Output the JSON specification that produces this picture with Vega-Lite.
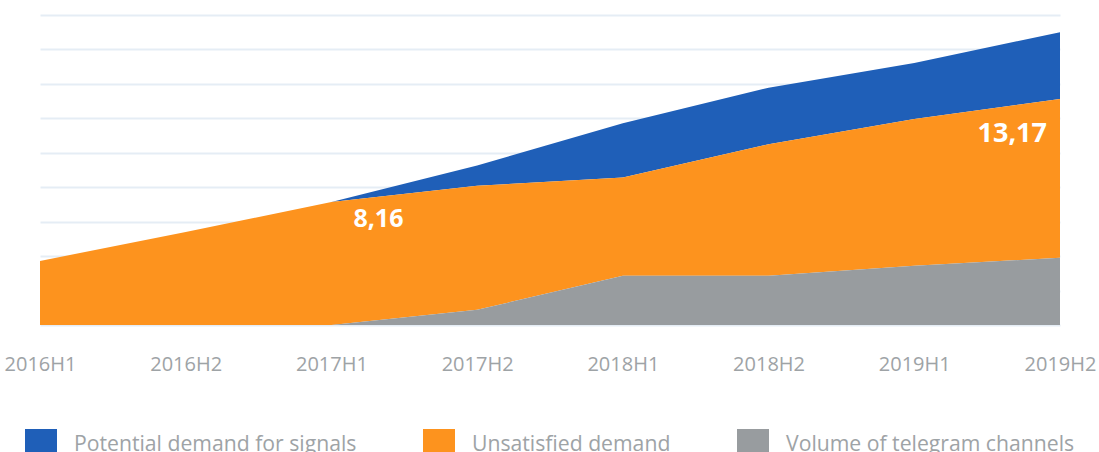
{
  "$schema": "https://vega.github.io/schema/vega-lite/v6.json",
  "width": 1020,
  "height": 310,
  "autosize": {"type": "none"},
  "padding": {"left": 40, "top": 15, "right": 39, "bottom": 127},
  "background": "white",
  "config": {"view": {"stroke": null}, "font": "Open Sans"},
  "datasets": {
    "series": [
      {"period": "2016H1", "series": "Potential demand for signals", "value": 0},
      {"period": "2016H2", "series": "Potential demand for signals", "value": 0},
      {"period": "2017H1", "series": "Potential demand for signals", "value": 0},
      {"period": "2017H2", "series": "Potential demand for signals", "value": 0.59},
      {"period": "2018H1", "series": "Potential demand for signals", "value": 1.58},
      {"period": "2018H2", "series": "Potential demand for signals", "value": 1.64},
      {"period": "2019H1", "series": "Potential demand for signals", "value": 1.63},
      {"period": "2019H2", "series": "Potential demand for signals", "value": 1.94},
      {"period": "2016H1", "series": "Unsatisfied demand", "value": 1.86},
      {"period": "2016H2", "series": "Unsatisfied demand", "value": 2.70},
      {"period": "2017H1", "series": "Unsatisfied demand", "value": 3.57},
      {"period": "2017H2", "series": "Unsatisfied demand", "value": 3.60},
      {"period": "2018H1", "series": "Unsatisfied demand", "value": 2.85},
      {"period": "2018H2", "series": "Unsatisfied demand", "value": 3.82},
      {"period": "2019H1", "series": "Unsatisfied demand", "value": 4.26},
      {"period": "2019H2", "series": "Unsatisfied demand", "value": 4.61},
      {"period": "2016H1", "series": "Volume of telegram channels", "value": 0},
      {"period": "2016H2", "series": "Volume of telegram channels", "value": 0},
      {"period": "2017H1", "series": "Volume of telegram channels", "value": 0},
      {"period": "2017H2", "series": "Volume of telegram channels", "value": 0.44},
      {"period": "2018H1", "series": "Volume of telegram channels", "value": 1.43},
      {"period": "2018H2", "series": "Volume of telegram channels", "value": 1.43},
      {"period": "2019H1", "series": "Volume of telegram channels", "value": 1.72},
      {"period": "2019H2", "series": "Volume of telegram channels", "value": 1.95}
    ],
    "labels": [
      {"period": "2017H1", "value": 3.57, "label": "8,16"},
      {"period": "2019H2", "value": 6.56, "label": "13,17"}
    ]
  },
  "layer": [
    {
      "data": {"name": "series"},
      "mark": {"type": "area", "interpolate": "linear", "opacity": 1},
      "encoding": {
        "x": {
          "field": "period", "type": "ordinal",
          "scale": {"type": "point", "padding": 0},
          "axis": {"title": null, "domain": false, "ticks": false, "labelAngle": 0, "labelFontSize": 20, "labelColor": "#9ea3a6", "labelPadding": 29, "grid": false}
        },
        "y": {
          "field": "value", "type": "quantitative", "stack": "zero",
          "scale": {"domain": [0, 9], "nice": false},
          "axis": {"title": null, "values": [0, 1, 2, 3, 4, 5, 6, 7, 8, 9], "tickCount": 10, "labels": false, "labelOverlap": false, "ticks": false, "domain": false, "grid": true, "gridColor": "#e5edf5", "gridWidth": 2}
        },
        "color": {
          "field": "series", "type": "nominal",
          "scale": {"domain": ["Potential demand for signals", "Unsatisfied demand", "Volume of telegram channels"], "range": ["#1f5fb8", "#fd931e", "#989c9f"]},
          "legend": {"title": null, "orient": "none", "legendX": -15, "legendY": 414, "direction": "horizontal", "symbolType": "square", "symbolSize": 1024, "symbolStrokeWidth": 0, "symbolOpacity": 1, "labelFontSize": 21.2, "labelColor": "#9ea3a6", "labelFont": "Open Sans", "columnPadding": 66, "symbolOffset": 0, "labelOffset": 17, "labelLimit": 400}
        },
        "order": {"field": "series", "sort": "descending"}
      }
    },
    {
      "data": {"name": "labels"},
      "transform": [{"filter": "datum.label == '8,16'"}],
      "mark": {"type": "text", "align": "left", "baseline": "alphabetic", "dx": 22, "dy": 25, "fontSize": 25, "fontWeight": "bold", "color": "white", "font": "Open Sans"},
      "encoding": {
        "x": {"field": "period", "type": "ordinal"},
        "y": {"field": "value", "type": "quantitative", "stack": null},
        "text": {"field": "label"}
      }
    },
    {
      "data": {"name": "labels"},
      "transform": [{"filter": "datum.label == '13,17'"}],
      "mark": {"type": "text", "align": "right", "baseline": "alphabetic", "dx": -13, "dy": 43, "fontSize": 27, "fontWeight": "bold", "color": "white", "font": "Open Sans"},
      "encoding": {
        "x": {"field": "period", "type": "ordinal"},
        "y": {"field": "value", "type": "quantitative", "stack": null},
        "text": {"field": "label"}
      }
    }
  ]
}
